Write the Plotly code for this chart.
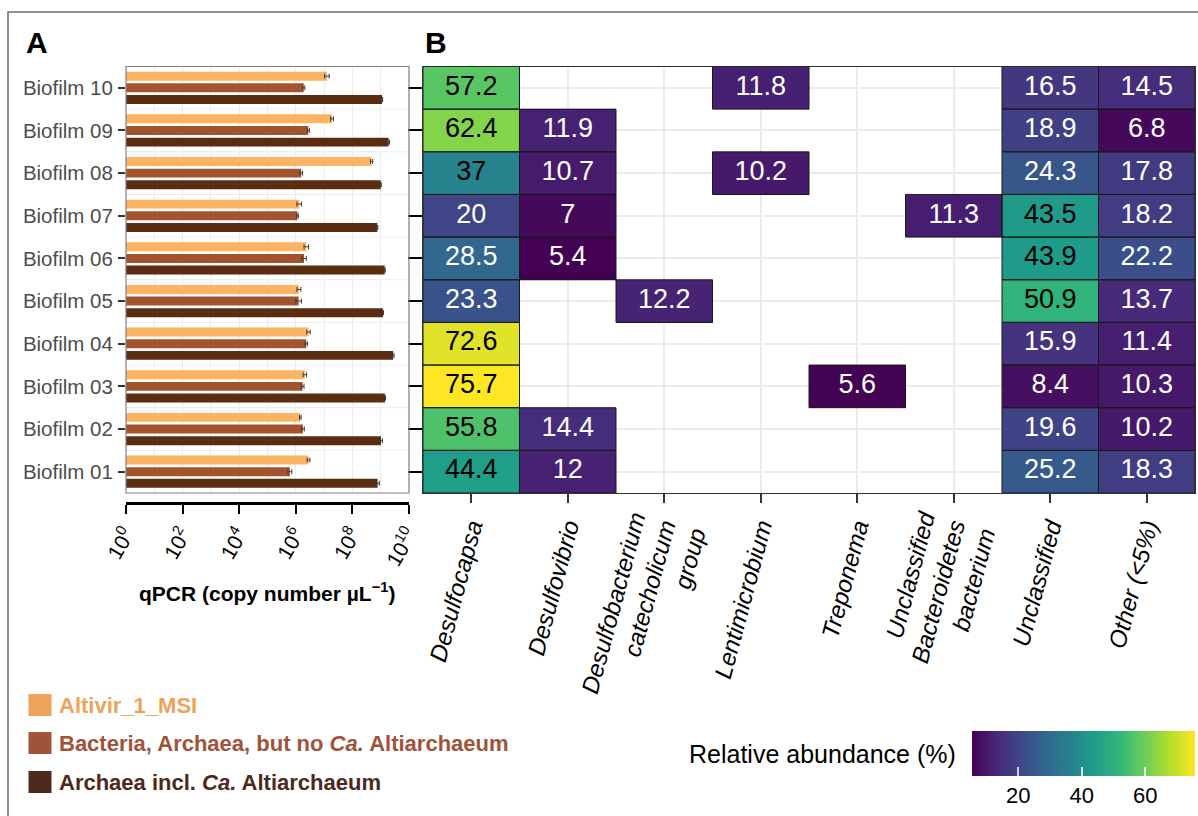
import numpy as np
import plotly.graph_objects as go

W, H = 1198, 816
FONT = "Liberation Sans, Arial, sans-serif"

# ---------------- data ----------------
biofilms = ["Biofilm 01", "Biofilm 02", "Biofilm 03", "Biofilm 04", "Biofilm 05",
            "Biofilm 06", "Biofilm 07", "Biofilm 08", "Biofilm 09", "Biofilm 10"]

# qPCR, log10(copy number per µL), Biofilm 01 -> 10
altivir_log = [6.45, 6.16, 6.32, 6.45, 6.11, 6.37, 6.12, 8.68, 7.28, 7.10]
bacteria_log = [5.79, 6.25, 6.24, 6.37, 6.10, 6.29, 6.06, 6.19, 6.44, 6.28]
archaea_log = [8.89, 9.01, 9.15, 9.44, 9.08, 9.14, 8.88, 9.00, 9.28, 9.05]
# spread of replicates, log10 units
altivir_sd = [0.05, 0.03, 0.06, 0.06, 0.07, 0.08, 0.08, 0.04, 0.05, 0.08]
bacteria_sd = [0.07, 0.05, 0.05, 0.04, 0.10, 0.08, 0.03, 0.05, 0.04, 0.04]
archaea_sd = [0.06, 0.05, 0.02, 0.03, 0.02, 0.02, 0.02, 0.02, 0.03, 0.02]

# relative abundance (%) of 16S taxa, Biofilm 01 -> 10 (None = below 5 %)
desulfocapsa = [44.4, 55.8, 75.7, 72.6, 23.3, 28.5, 20, 37, 62.4, 57.2]
desulfovibrio = [12, 14.4, None, None, None, 5.4, 7, 10.7, 11.9, None]
desulfobacterium = [None, None, None, None, 12.2, None, None, None, None, None]
lentimicrobium = [None, None, None, None, None, None, None, 10.2, None, 11.8]
treponema = [None, None, 5.6, None, None, None, None, None, None, None]
bacteroidetes = [None, None, None, None, None, None, 11.3, None, None, None]
unclassified = [25.2, 19.6, 8.4, 15.9, 50.9, 43.9, 43.5, 24.3, 18.9, 16.5]
other = [18.3, 10.2, 10.3, 11.4, 13.7, 22.2, 18.2, 17.8, 6.8, 14.5]

taxa = ["Desulfocapsa", "Desulfovibrio", "Desulfobacterium catecholicum group",
        "Lentimicrobium", "Treponema", "Unclassified Bacteroidetes bacterium",
        "Unclassified", "Other (<5%)"]
taxa_labels = ["Desulfocapsa", "Desulfovibrio", "Desulfobacterium<br>catecholicum<br>group",
               "Lentimicrobium", "Treponema", "Unclassified<br>Bacteroidetes<br>bacterium",
               "Unclassified", "Other (&lt;5%)"]
abundance_cols = [desulfocapsa, desulfovibrio, desulfobacterium, lentimicrobium,
                  treponema, bacteroidetes, unclassified, other]

decade_ticks = [0, 2, 4, 6, 8, 10]
colorbar_ticks = [20, 40, 60]

# ---------------- styling ----------------
bar_colors = {"Altivir": "#FDB462", "Bacteria": "#A3532E", "Archaea": "#5A2C10"}
legend_colors = {"Altivir": "#EDA35A", "Bacteria": "#A0533A", "Archaea": "#4D291C"}


def px_x(p):
    return p / W


def px_y(p):
    return 1 - p / H


A_X = [px_x(126), px_x(409)]
B_X = [px_x(423), px_x(1195)]
ROWS_Y = [px_y(493), px_y(66.5)]
CB_LEFT, CB_RIGHT, CB_TOP = 972, 1195, 731

fig = go.Figure()

# ---------------- panel A: grouped qPCR bars ----------------
series = [("Archaea", archaea_log, archaea_sd),
          ("Bacteria", bacteria_log, bacteria_sd),
          ("Altivir", altivir_log, altivir_sd)]
for name, vals, sd in series:
    v = np.array(vals)
    s = np.array(sd)
    fig.add_trace(go.Bar(
        x=10 ** v, y=biofilms, orientation="h", name=name,
        marker=dict(color=bar_colors[name], line=dict(width=0)),
        error_x=dict(type="data", array=10 ** (v + s) - 10 ** v,
                     arrayminus=10 ** v - 10 ** (v - s),
                     color="#3a3a3a", thickness=1, width=2.5),
        xaxis="x", yaxis="y", showlegend=False, hoverinfo="x+y"))

# ---------------- panel B: abundance heatmap ----------------
z = [[col[i] for col in abundance_cols] for i in range(len(biofilms))]
zvals = [v for row in z for v in row if v is not None]
zmin, zmax = min(zvals), max(zvals)
fig.add_trace(go.Heatmap(
    x=taxa, y=biofilms, z=z, xaxis="x2", yaxis="y2",
    colorscale="Viridis", zmin=zmin, zmax=zmax,
    hoverongaps=False,
    colorbar=dict(orientation="h", x=px_x((CB_LEFT + CB_RIGHT) / 2), xanchor="center",
                  len=(CB_RIGHT - CB_LEFT) / W, lenmode="fraction",
                  thickness=45, thicknessmode="pixels",
                  y=px_y(CB_TOP), yanchor="top", ypad=0, xpad=0,
                  outlinewidth=0, tickvals=colorbar_ticks,
                  ticks="inside", ticklen=9, tickwidth=1.5,
                  tickcolor="rgba(255,255,255,0.75)",
                  tickfont=dict(size=22, color="black", family=FONT))))

# matching white ticks along the top edge of the colour bar
for t in colorbar_ticks:
    xc = CB_LEFT + (t - zmin) / (zmax - zmin) * (CB_RIGHT - CB_LEFT)
    fig.add_shape(type="line", xref="paper", yref="paper", x0=px_x(xc), x1=px_x(xc),
                  y0=px_y(CB_TOP), y1=px_y(CB_TOP + 9),
                  line=dict(color="rgba(255,255,255,0.75)", width=1.5))

tx, ty, tt, tc = [], [], [], []
for i, b in enumerate(biofilms):
    for j, t in enumerate(taxa):
        v = z[i][j]
        if v is None:
            continue
        tx.append(t)
        ty.append(b)
        tt.append(f"{v:g}")
        tc.append("black" if v > 35 else "white")
        fig.add_shape(type="rect", xref="x2", yref="y2",
                      x0=j - 0.5, x1=j + 0.5, y0=i - 0.5, y1=i + 0.5,
                      line=dict(color="#1a1a1a", width=1), layer="above")
fig.add_trace(go.Scatter(x=tx, y=ty, text=tt, mode="text", xaxis="x2", yaxis="y2",
                         textfont=dict(size=27, color=tc, family=FONT),
                         hoverinfo="skip", showlegend=False))

# horizontal separators between samples in panel A
for i in range(1, len(biofilms)):
    fig.add_shape(type="line", xref="x domain", yref="y", x0=0, x1=1,
                  y0=i - 0.5, y1=i - 0.5, line=dict(color="#ebebeb", width=1), layer="below")
# panel A frame
fig.add_shape(type="rect", xref="x domain", yref="y domain", x0=0, x1=1, y0=0, y1=1,
              line=dict(color="#7f7f7f", width=1.2), layer="above")
# outer frame
fig.add_shape(type="rect", xref="paper", yref="paper", x0=px_x(8), x1=1.05,
              y0=-0.05, y1=px_y(12), line=dict(color="#707070", width=1.5))

# legend keys for panel A
legend_items = [
    ("Altivir", "<b>Altivir_1_MSI</b>", 705),
    ("Bacteria", "<b>Bacteria, Archaea, but no <i>Ca.</i> Altiarchaeum</b>", 743),
    ("Archaea", "<b>Archaea incl. <i>Ca.</i> Altiarchaeum</b>", 782),
]
annotations = []
for key, label, yc in legend_items:
    fig.add_shape(type="rect", xref="paper", yref="paper",
                  x0=px_x(28.5), x1=px_x(51.5), y0=px_y(yc + 11), y1=px_y(yc - 11),
                  fillcolor=legend_colors[key], line=dict(width=0))
    annotations.append(dict(text=label, x=px_x(57), y=px_y(yc), xref="paper", yref="paper",
                            xanchor="left", yanchor="middle", showarrow=False,
                            font=dict(size=22, color=legend_colors[key], family=FONT)))

annotations += [
    dict(text="<b>A</b>", x=px_x(24), y=px_y(42), xref="paper", yref="paper",
         xanchor="left", yanchor="middle", showarrow=False,
         font=dict(size=30, color="black", family=FONT)),
    dict(text="<b>B</b>", x=px_x(423), y=px_y(42), xref="paper", yref="paper",
         xanchor="left", yanchor="middle", showarrow=False,
         font=dict(size=30, color="black", family=FONT)),
    dict(text="<b>qPCR (copy number µL<sup>−1</sup>)</b>", x=px_x(267), y=px_y(592),
         xref="paper", yref="paper", xanchor="center", yanchor="middle", showarrow=False,
         font=dict(size=21, color="black", family=FONT)),
    dict(text="Relative abundance (%)", x=px_x(958), y=px_y(754), xref="paper", yref="paper",
         xanchor="right", yanchor="middle", showarrow=False,
         font=dict(size=25, color="black", family=FONT)),
]

fig.update_layout(
    width=W, height=H, margin=dict(l=0, r=0, t=0, b=0, autoexpand=False),
    paper_bgcolor="white", plot_bgcolor="white",
    font=dict(family=FONT, color="black"),
    barmode="group", bargap=0.18, bargroupgap=0.23,
    annotations=annotations,
    xaxis=dict(type="log", domain=A_X, range=[0, 10], anchor="free", position=px_y(503),
               tickmode="array", tickvals=[10 ** d for d in decade_ticks],
               ticktext=[f"10<sup>{d}</sup>" for d in decade_ticks],
               tickangle=-60, tickfont=dict(size=21, color="black"),
               ticks="outside", ticklen=9, tickwidth=2, tickcolor="black",
               showline=True, linecolor="black", linewidth=2.5,
               showgrid=True, gridcolor="#ebebeb", gridwidth=1, zeroline=False,
               minor=dict(tickmode="array", tickvals=[10 ** (d + 1) for d in decade_ticks[:-1]],
                          showgrid=True, gridcolor="#ebebeb", gridwidth=1, ticks="")),
    yaxis=dict(type="category", categoryorder="array", categoryarray=biofilms,
               domain=ROWS_Y, range=[-0.5, 9.5], anchor="x",
               ticks="outside", ticklen=7, tickwidth=2, tickcolor="#333333",
               tickfont=dict(size=20.5, color="#4d4d4d"), ticklabelstandoff=1,
               showgrid=False, showline=False, zeroline=False),
    xaxis2=dict(type="category", categoryorder="array", categoryarray=taxa,
                tickmode="array", tickvals=taxa, ticktext=taxa_labels,
                domain=B_X, range=[-0.5, 7.5], anchor="y2",
                tickangle=-75, tickfont=dict(size=24, color="black", style="italic"),
                ticks="outside", ticklen=9, tickwidth=2, tickcolor="#333333",
                showline=True, mirror=True, linecolor="#333333", linewidth=1.2,
                showgrid=True, gridcolor="#ebebeb", gridwidth=2, zeroline=False),
    yaxis2=dict(type="category", categoryorder="array", categoryarray=biofilms,
                domain=ROWS_Y, range=[-0.5, 9.5], anchor="x2",
                showticklabels=False, ticks="outside", ticklen=14, tickwidth=2,
                tickcolor="black",
                showline=True, mirror=True, linecolor="#333333", linewidth=1.2,
                showgrid=True, gridcolor="#ebebeb", gridwidth=2, zeroline=False),
)

fig.write_html("out.html")
